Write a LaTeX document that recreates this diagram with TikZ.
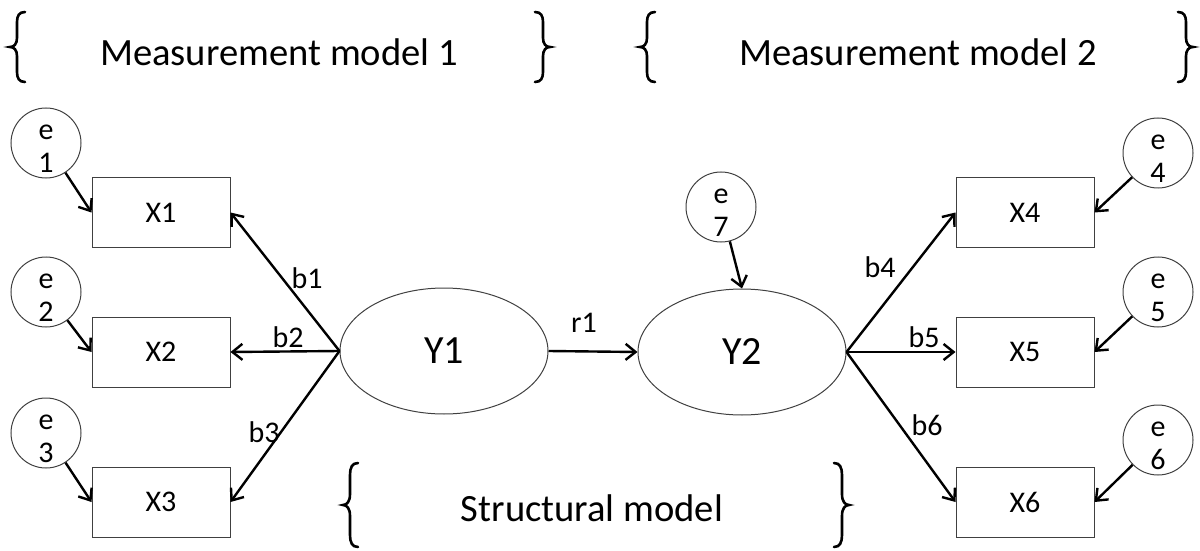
\documentclass[tikz,border=0pt]{standalone}
\usepackage{fontspec}
\setmainfont{Carlito}
\usetikzlibrary{arrows.meta,shapes.geometric}
\begin{document}
\begin{tikzpicture}[x=0.5pt,y=-0.5pt,
  box/.style={draw=black!75,line width=0.5pt,minimum width=69pt,minimum height=35pt,inner sep=0,font=\fontsize{15}{18}\selectfont},
  errc/.style={circle,draw=black!75,line width=0.5pt,minimum size=35pt,inner sep=0},
  errt/.style={align=center,font=\fontsize{15}{16.5}\selectfont,inner sep=0},
  lat/.style={ellipse,draw=black!75,line width=0.5pt,minimum width=104pt,minimum height=63pt,inner sep=0,font=\fontsize{20}{24}\selectfont},
  arr/.style={line width=1.2pt,-{Straight Barb[length=5pt,width=8pt]}},
  lbl/.style={font=\fontsize{15}{18}\selectfont,inner sep=0},
  ttl/.style={font=\fontsize{19.3}{23}\selectfont,inner sep=0},
  brc/.style={line width=1.3pt,line cap=round},
  lbrace/.pic={\draw[brc] (8,-35) .. controls (2,-35) and (0,-31) .. (0,-25) -- (0,-9) .. controls (0,-3) and (-3,0) .. (-7,0) .. controls (-3,0) and (0,3) .. (0,9) -- (0,25) .. controls (0,31) and (2,35) .. (8,35);},
]
\useasboundingbox (0,0) rectangle (1200,551);

% titles and braces
\node[ttl] (t1) at (279,52) {Measurement model 1};
\node[ttl] (t2) at (918,52) {Measurement model 2};
\node[ttl] (t3) at (592,508) {Structural model};
\pic at (17,47) {lbrace};
\pic[xscale=-1] at (543,47) {lbrace};
\pic at (647,47) {lbrace};
\pic[xscale=-1] at (1186,47) {lbrace};
\pic[yscale=1.2] at (350,505) {lbrace};
\pic[xscale=-1,yscale=1.2] at (842,505) {lbrace};

% observed variables
\node[box] (x1) at (161,212.5) {X1};
\node[box] (x2) at (161,352) {X2};
\node[box] (x3) at (161,502) {X3};
\node[box] (x4) at (1025,212.5) {X4};
\node[box] (x5) at (1025,352) {X5};
\node[box] (x6) at (1025,502) {X6};

% latent variables
\node[lat] (y1) at (444,351) {Y1};
\node[lat] (y2) at (742,352) {Y2};

% error terms
\node[errc] (e1) at (46,143) {};
\node[errc] (e2) at (46,292) {};
\node[errc] (e3) at (46,433) {};
\node[errc] (e4) at (1158,153) {};
\node[errc] (e5) at (1158,292) {};
\node[errc] (e6) at (1158,440) {};
\node[errc] (e7) at (721,207) {};
\node[errt] (te1) at ([yshift=-3pt]e1.center) {e\\1};
\node[errt] (te2) at ([yshift=-3pt]e2.center) {e\\2};
\node[errt] (te3) at ([yshift=-3pt]e3.center) {e\\3};
\node[errt] (te4) at ([yshift=-3pt]e4.center) {e\\4};
\node[errt] (te5) at ([yshift=-3pt]e5.center) {e\\5};
\node[errt] (te6) at ([yshift=-3pt]e6.center) {e\\6};
\node[errt] (te7) at ([yshift=-3pt]e7.center) {e\\7};

% connectors
\draw[arr] (y1.west) -- (x1.east);
\draw[arr] (y1.west) -- (x2.east);
\draw[arr] (y1.west) -- (x3.east);
\draw[arr] (y2.east) -- (x4.west);
\draw[arr] (y2.east) -- (x5.west);
\draw[arr] (y2.east) -- (x6.west);
\draw[arr] (y1.east) -- (y2.west);
\draw[arr] (e1) -- (x1.west);
\draw[arr] (e2) -- (x2.west);
\draw[arr] (e3) -- (x3.west);
\draw[arr] (e4) -- (x4.east);
\draw[arr] (e5) -- (x5.east);
\draw[arr] (e6) -- (x6.east);
\draw[arr] (e7) -- (y2.north);

% path labels
\node[lbl] (lb1) at (307,278) {b1};
\node[lbl] (lb2) at (288,337) {b2};
\node[lbl] (lb3) at (264,432) {b3};
\node[lbl] (lr1) at (584,323) {r1};
\node[lbl] (lb4) at (880,267) {b4};
\node[lbl] (lb5) at (924,337) {b5};
\node[lbl] (lb6) at (927,425) {b6};
\end{tikzpicture}
\end{document}
